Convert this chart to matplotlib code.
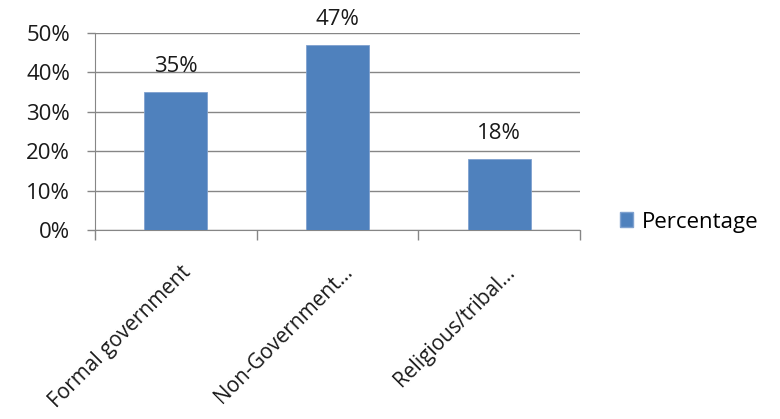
import numpy as np
import matplotlib
matplotlib.use("Agg")
import matplotlib.pyplot as plt
from matplotlib.patches import Patch

categories = ["Formal government", "Non-Government\u2026", "Religious/tribal\u2026"]
values = [0.35, 0.47, 0.18]
value_labels = ["35%", "47%", "18%"]
yticks = [0, 0.1, 0.2, 0.3, 0.4, 0.5]
ytick_labels = ["0%", "10%", "20%", "30%", "40%", "50%"]

plt.rcParams['font.family'] = ['Open Sans', 'DejaVu Sans']

fig = plt.figure(figsize=(7.8, 4.19), dpi=100)
ax = fig.add_axes([95/780, 1-230/419, (580-95)/780, (230-33)/419])

bar_color = "#4F81BD"
grid_color = "#868686"
text_color = "#1a1a1a"
fs = 16
x = np.arange(len(categories))
ax.bar(x, values, width=0.39, color=bar_color, edgecolor="#7FA1CF", linewidth=0.6, zorder=3)

for xi, v, lab in zip(x, values, value_labels):
    ax.annotate(lab, (xi, v), xytext=(0, 11), textcoords="offset points",
                ha="center", va="bottom", fontsize=fs, color=text_color)

ax.set_xlim(-0.5, len(categories) - 0.5)
ax.set_ylim(0, 0.5)
ax.set_yticks(yticks)
ax.set_yticklabels(ytick_labels, fontsize=fs, color=text_color)
ax.yaxis.grid(True, color=grid_color, linewidth=1, zorder=0)
ax.set_axisbelow(True)

# category boundaries as tick marks
ax.set_xticks(np.arange(-0.5, len(categories), 1.0))
ax.set_xticklabels([])
ax.tick_params(axis="x", length=7, color=grid_color, width=1)
ax.tick_params(axis="y", length=6, color=grid_color, width=1, pad=12)
for xi, cat in zip(x, categories):
    ax.text(xi + 0.03, -0.08, cat, rotation=45, ha="right", va="top",
            rotation_mode="anchor", fontsize=15, color=text_color,
            transform=ax.transData)

for s in ["top", "right"]:
    ax.spines[s].set_visible(False)
ax.spines["left"].set_color(grid_color)
ax.spines["bottom"].set_color(grid_color)

handles = [Patch(facecolor=bar_color, edgecolor="#7FA1CF", label="Percentage")]
fig.legend(handles=handles, loc="center left", bbox_to_anchor=(620/780, 1-222/419),
           frameon=False, fontsize=fs, handlelength=0.6, handleheight=0.7,
           handletextpad=0.4, borderpad=0, borderaxespad=0)

fig.savefig("out.png", dpi=100)
